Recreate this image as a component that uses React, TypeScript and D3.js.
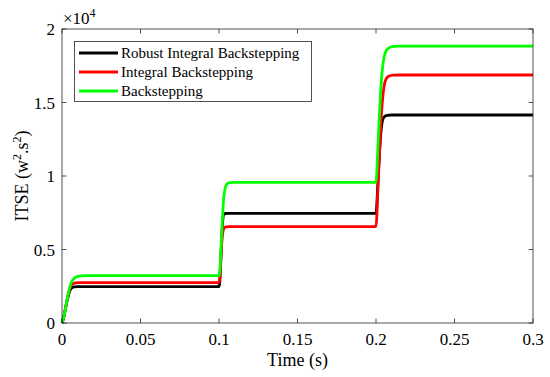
import React, { useEffect, useRef } from 'react';
import * as d3 from 'd3';

// time samples (s) and ITSE values, one list per controller
const robustT = [0, 0.001, 0.002, 0.003, 0.004, 0.005, 0.006, 0.008, 0.01,
  0.1, 0.1005, 0.101, 0.102, 0.1025, 0.103, 0.104, 0.106,
  0.2, 0.2005, 0.201, 0.202, 0.203, 0.204, 0.205, 0.207, 0.21, 0.3];
const robustV = [0, 350, 870, 1400, 1850, 2200, 2380, 2460, 2470,
  2470, 2800, 3900, 6300, 7100, 7380, 7450, 7460,
  7460, 8000, 9100, 11200, 12800, 13700, 14000, 14120, 14150, 14150];

const integralT = [0, 0.001, 0.002, 0.003, 0.004, 0.005, 0.006, 0.008, 0.01,
  0.1, 0.1005, 0.101, 0.102, 0.1025, 0.103, 0.104, 0.106,
  0.2, 0.2005, 0.201, 0.202, 0.203, 0.204, 0.205, 0.206, 0.208, 0.211, 0.215, 0.3];
const integralV = [0, 350, 870, 1430, 1950, 2350, 2580, 2710, 2740,
  2740, 3050, 4000, 5800, 6200, 6420, 6520, 6550,
  6550, 7200, 8600, 11000, 13300, 15000, 16000, 16500, 16780, 16860, 16870, 16870];

const backT = [0, 0.001, 0.002, 0.003, 0.004, 0.005, 0.006, 0.008, 0.01, 0.013, 0.016,
  0.1, 0.1005, 0.101, 0.102, 0.103, 0.104, 0.105, 0.107, 0.11,
  0.2, 0.2005, 0.201, 0.202, 0.203, 0.204, 0.205, 0.206, 0.208, 0.211, 0.215, 0.3];
const backV = [0, 350, 870, 1450, 2000, 2450, 2770, 3060, 3170, 3210, 3220,
  3220, 3500, 4500, 6700, 8500, 9200, 9450, 9550, 9570,
  9570, 10200, 11500, 13800, 15800, 17200, 18000, 18400, 18700, 18820, 18840, 18840];

const seriesNames = ['Robust Integral Backstepping', 'Integral Backstepping', 'Backstepping'];
const seriesColors = ['#000000', '#ff0000', '#00ff00'];
const xTicks = [0, 0.05, 0.1, 0.15, 0.2, 0.25, 0.3];
const yTicks = [0, 0.5, 1, 1.5, 2];

const App = () => {
  const ref = useRef<SVGSVGElement>(null);

  useEffect(() => {
    const svg = d3.select(ref.current);
    svg.selectAll('*').remove();

    const left = 62, right = 533, top = 29, bottom = 323;
    const x = d3.scaleLinear().domain([0, 0.3]).range([left, right]);
    const y = d3.scaleLinear().domain([0, 2e4]).range([bottom, top]);
    const font = "'Times New Roman', 'Liberation Serif', 'DejaVu Serif', serif";
    const axisColor = '#262626';

    svg.append('rect').attr('width', 550).attr('height', 377).attr('fill', '#fff');

    // series
    const series = [
      { t: robustT, v: robustV },
      { t: integralT, v: integralV },
      { t: backT, v: backV },
    ];
    const line = d3.line<[number, number]>()
      .x(d => x(d[0]))
      .y(d => y(d[1]))
      .curve(d3.curveMonotoneX);
    const plot = svg.append('g');
    series.forEach((s, i) => {
      const pts = s.t.map((t, j) => [t, s.v[j]] as [number, number]);
      plot.append('path')
        .attr('d', line(pts))
        .attr('fill', 'none')
        .attr('stroke', seriesColors[i])
        .attr('stroke-width', 2.8)
        .attr('stroke-linejoin', 'round');
    });

    // box + ticks
    const ax = svg.append('g').attr('stroke', axisColor).attr('stroke-width', 0.8);
    ax.append('rect')
      .attr('x', left).attr('y', top)
      .attr('width', right - left).attr('height', bottom - top)
      .attr('fill', 'none');
    const tl = 4.5;
    xTicks.forEach(t => {
      ax.append('line').attr('x1', x(t)).attr('x2', x(t)).attr('y1', bottom).attr('y2', bottom - tl);
      ax.append('line').attr('x1', x(t)).attr('x2', x(t)).attr('y1', top).attr('y2', top + tl);
    });
    yTicks.forEach(t => {
      ax.append('line').attr('x1', left).attr('x2', left + tl).attr('y1', y(t * 1e4)).attr('y2', y(t * 1e4));
      ax.append('line').attr('x1', right).attr('x2', right - tl).attr('y1', y(t * 1e4)).attr('y2', y(t * 1e4));
    });

    const txt = svg.append('g').style('font-family', font).attr('fill', '#000');
    xTicks.forEach(t => {
      txt.append('text')
        .attr('x', x(t)).attr('y', bottom + 22)
        .attr('text-anchor', 'middle')
        .attr('font-size', 17)
        .text(String(t));
    });
    yTicks.forEach(t => {
      txt.append('text')
        .attr('x', left - 7).attr('y', y(t * 1e4) + 6)
        .attr('text-anchor', 'end')
        .attr('font-size', 17)
        .text(String(t));
    });

    // ×10^4 exponent
    const ex = txt.append('text').attr('x', left + 1).attr('y', 24).attr('font-size', 17);
    ex.append('tspan').text('×10');
    ex.append('tspan').attr('dy', -7).attr('font-size', 12).text('4');

    // axis labels
    txt.append('text')
      .attr('x', (left + right) / 2).attr('y', 366)
      .attr('text-anchor', 'middle')
      .attr('font-size', 18)
      .text('Time (s)');
    const yl = txt.append('text')
      .attr('transform', `translate(28,${(top + bottom) / 2}) rotate(-90)`)
      .attr('text-anchor', 'middle')
      .attr('font-size', 18);
    yl.append('tspan').text('ITSE (w');
    yl.append('tspan').attr('dy', -7).attr('font-size', 12).text('2');
    yl.append('tspan').attr('dy', 7).text('.s');
    yl.append('tspan').attr('dy', -7).attr('font-size', 12).text('2');
    yl.append('tspan').attr('dy', 7).text(')');

    // legend
    const lg = svg.append('g');
    lg.append('rect')
      .attr('x', 74.5).attr('y', 41.5).attr('width', 237).attr('height', 60)
      .attr('fill', '#fff').attr('stroke', axisColor).attr('stroke-width', 0.8);
    seriesNames.forEach((n, i) => {
      const ly = 53 + i * 19;
      lg.append('line')
        .attr('x1', 79).attr('x2', 118).attr('y1', ly).attr('y2', ly)
        .attr('stroke', seriesColors[i]).attr('stroke-width', 2.8);
      lg.append('text')
        .attr('x', 121).attr('y', ly + 5)
        .style('font-family', font).attr('font-size', 15)
        .text(n);
    });
  }, []);

  return <svg ref={ref} width={550} height={377} style={{ display: 'block', position: 'absolute', left: 0, top: 0 }} />;
};

export default App;
